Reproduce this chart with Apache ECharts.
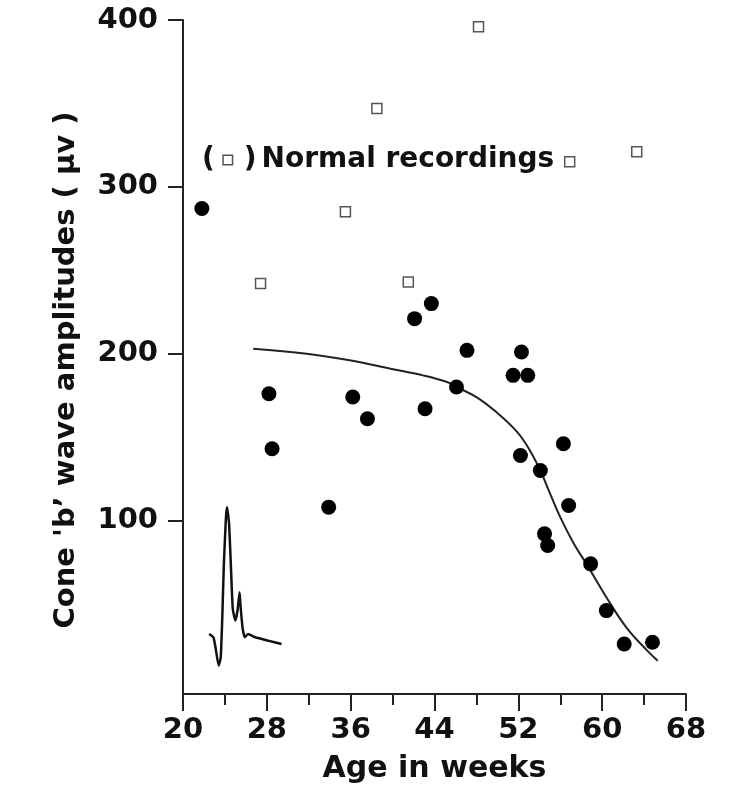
<!DOCTYPE html>
<html>
<head>
<meta charset="utf-8">
<script src="https://cdn.jsdelivr.net/npm/echarts@6/dist/echarts.min.js"></script>
<style>
html,body{margin:0;padding:0;background:#fff;}
#chart{width:735px;height:791px;}
</style>
</head>
<body>
<div id="chart"></div>
<script>
// Normal recordings (open squares)
var normalX = [27.4, 35.5, 38.5, 41.5, 48.2, 56.9, 63.3];
var normalY = [242, 285, 347, 243, 396, 315, 321];

// Patient recordings (filled dots)
var dotX = [21.8, 28.2, 28.5, 33.9, 36.2, 37.6, 42.1, 43.7, 43.1, 46.1, 47.1, 51.5,
            52.9, 52.3, 52.2, 54.1, 56.3, 56.8, 54.5, 54.8, 58.9, 60.4, 62.1, 64.8];
var dotY = [287, 176, 143, 108, 174, 161, 221, 230, 167, 180, 202, 187,
            187, 201, 139, 130, 146, 109, 92, 85, 74, 46, 26, 27];

// Fitted curve
var fitX = [26.7, 31.8, 35.9, 39.8, 42.9, 45.2, 46.1, 48.0, 49.9, 51.9, 53.1, 54.1,
            54.9, 56.0, 57.3, 58.5, 60.4, 62.3, 64.3, 65.3];
var fitY = [203, 200, 196, 191, 187, 183, 180, 174, 165, 153, 142, 130,
            118, 102, 86, 74, 54, 36, 22, 16];

// Inset ERG waveform trace (in chart units)
var waveX = [22.5, 22.9, 23.1, 23.4, 23.6, 23.75, 23.9, 24.1, 24.2, 24.4, 24.6, 24.75,
             25.0, 25.2, 25.4, 25.5, 25.7, 25.9, 26.2, 26.9, 28.1, 29.4];
var waveY = [32, 30, 24, 13, 18, 42, 74, 102, 108, 98, 68, 47,
             40, 46, 57, 48, 35, 30, 32, 30, 28, 26];

// Axis ticks
var xTicks = {min: 20, max: 68, interval: 8};
var yTickValues = [100, 200, 300, 400];
var yRange = {min: -4, max: 400};

var xLabel = 'Age in weeks';
var yLabel = "Cone 'b’ wave amplitudes ( μv )";
var legendText = 'Normal recordings';

function zip(a, b) { return a.map(function (v, i) { return [v, b[i]]; }); }

var FONT = 'DejaVu Sans';
var INK = '#111';
var AXIS = '#222';

var chart = echarts.init(document.getElementById('chart'), null, {renderer: 'canvas'});
chart.setOption({
  backgroundColor: '#fff',
  animation: false,
  title: {
    left: 202, top: 146, padding: 0,
    text: '{p|(}{g|}{sq|}{g3|}{p|)}{g2|}{p|' + legendText + '}',
    textStyle: {
      rich: {
        p: {fontFamily: FONT, fontWeight: 'bold', fontSize: 28, color: INK},
        g: {width: 9},
        g3: {width: 12},
        g2: {width: 5},
        sq: {width: 8, height: 8, borderColor: '#555', borderWidth: 1.5, backgroundColor: '#fff'}
      }
    }
  },
  grid: {left: 183, right: 49, top: 20, bottom: 97, containLabel: false},
  xAxis: {
    type: 'value',
    min: xTicks.min, max: xTicks.max, interval: xTicks.interval,
    name: xLabel, nameLocation: 'middle', nameGap: 60,
    nameTextStyle: {fontFamily: FONT, fontWeight: 'bold', fontSize: 30, color: INK},
    axisLine: {onZero: false, lineStyle: {color: AXIS, width: 2}},
    axisTick: {show: true, inside: false, length: 17, lineStyle: {color: AXIS, width: 2}},
    minorTick: {show: true, splitNumber: 2, length: 11, lineStyle: {color: AXIS, width: 2}},
    axisLabel: {margin: 22, fontFamily: FONT, fontWeight: 'bold', fontSize: 29, color: INK,
                showMinLabel: true, showMaxLabel: true},
    splitLine: {show: false}
  },
  yAxis: {
    type: 'value',
    min: yRange.min, max: yRange.max,
    name: yLabel, nameLocation: 'middle', nameGap: 102,
    nameTextStyle: {fontFamily: FONT, fontWeight: 'bold', fontSize: 29, color: INK, padding: [0, 26, 0, 0]},
    axisLine: {show: true, lineStyle: {color: AXIS, width: 2}},
    axisTick: {show: true, inside: false, length: 15, customValues: yTickValues, lineStyle: {color: AXIS, width: 2}},
    axisLabel: {margin: 25, customValues: yTickValues, fontFamily: FONT, fontWeight: 'bold', fontSize: 29, color: INK},
    splitLine: {show: false}
  },
  series: [
    {
      type: 'line', name: 'fit', data: zip(fitX, fitY), smooth: 0.4, showSymbol: false,
      lineStyle: {color: '#222', width: 2}, z: 2
    },
    {
      type: 'line', name: 'trace', data: zip(waveX, waveY), smooth: 0.15, showSymbol: false,
      lineStyle: {color: '#111', width: 2.5, join: 'round'}, z: 2
    },
    {
      type: 'scatter', name: 'normal', data: zip(normalX, normalY), symbol: 'rect', symbolSize: 10,
      itemStyle: {color: '#fff', borderColor: '#555', borderWidth: 1.5, opacity: 1}, z: 3
    },
    {
      type: 'scatter', name: 'patients', data: zip(dotX, dotY), symbol: 'circle', symbolSize: 15,
      itemStyle: {color: '#000', opacity: 1}, z: 4
    }
  ]
});
</script>
</body>
</html>
